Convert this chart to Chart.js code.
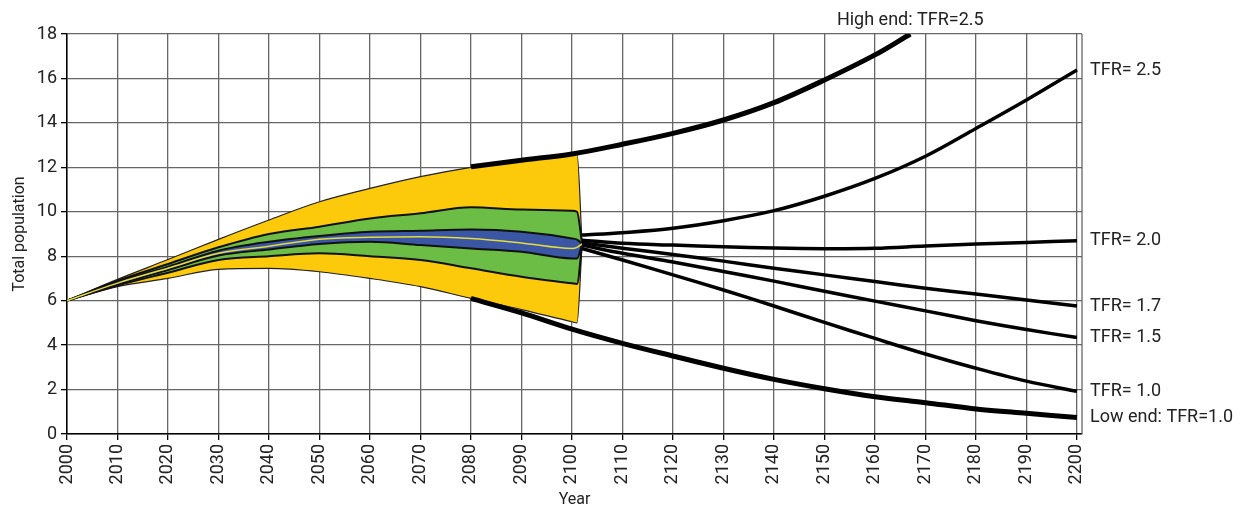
<!DOCTYPE html>
<html>
<head>
<meta charset="utf-8">
<script src="https://cdn.jsdelivr.net/npm/chart.js@4.4.1/dist/chart.umd.min.js"></script>
<style>
  html, body { margin: 0; padding: 0; background: #fff; }
  #wrap { width: 1243px; height: 512px; }
</style>
</head>
<body>
<div id="wrap"><canvas id="popChart"></canvas></div>
<script>
// 扇形区（概率区间）年份与数值
const fanYears   = [2000, 2010, 2020, 2030, 2040, 2050, 2060, 2070, 2080, 2090, 2100, 2101, 2102];
const outerUpper = [6.0, 6.96, 7.85, 8.76, 9.63, 10.45, 11.05, 11.58, 12.0, 12.3, 12.56, 12.6, 8.55];
const outerLower = [6.0, 6.63, 7.0, 7.41, 7.45, 7.3, 7.0, 6.63, 6.1, 5.6, 5.05, 5.0, 8.55];
const midUpper   = [6.0, 6.9, 7.65, 8.4, 9.0, 9.33, 9.7, 9.93, 10.2, 10.1, 10.05, 10.0, 8.55];
const midLower   = [6.0, 6.68, 7.26, 7.83, 8.0, 8.13, 8.0, 7.83, 7.46, 7.08, 6.78, 6.75, 8.55];
const innerUpper = [6.0, 6.85, 7.53, 8.25, 8.65, 8.91, 9.1, 9.15, 9.2, 9.1, 8.8, 8.75, 8.55];
const innerLower = [6.0, 6.72, 7.38, 8.03, 8.3, 8.55, 8.65, 8.5, 8.35, 8.2, 7.9, 7.9, 8.55];
const median     = [6.0, 6.79, 7.46, 8.13, 8.45, 8.76, 8.85, 8.88, 8.8, 8.6, 8.35, 8.4, 8.55];

// 2100年以后的情景
const projYears = [2102, 2110, 2120, 2130, 2140, 2150, 2160, 2170, 2180, 2190, 2200];
const tfr25 = [8.95, 9.06, 9.26, 9.6, 10.05, 10.7, 11.5, 12.5, 13.75, 15.03, 16.38];
const tfr20 = [8.72, 8.58, 8.5, 8.43, 8.37, 8.34, 8.36, 8.46, 8.55, 8.62, 8.7];
const tfr17 = [8.6, 8.36, 8.08, 7.78, 7.46, 7.16, 6.86, 6.56, 6.3, 6.03, 5.76];
const tfr15 = [8.5, 8.13, 7.74, 7.31, 6.88, 6.42, 5.98, 5.54, 5.1, 4.7, 4.34];
const tfr10 = [8.35, 7.83, 7.16, 6.48, 5.76, 5.02, 4.3, 3.6, 2.96, 2.38, 1.92];

const highYears = [2080, 2090, 2100, 2110, 2120, 2130, 2140, 2150, 2160, 2167];
const highEnd   = [12.03, 12.32, 12.6, 13.04, 13.53, 14.13, 14.91, 15.93, 17.06, 18.0];
const lowYears  = [2080, 2090, 2100, 2110, 2120, 2130, 2140, 2150, 2160, 2170, 2180, 2190, 2200];
const lowEnd    = [6.1, 5.45, 4.72, 4.08, 3.51, 2.96, 2.46, 2.04, 1.68, 1.41, 1.13, 0.93, 0.74];

// 坐标轴刻度
const xTicks = [2000, 2010, 2020, 2030, 2040, 2050, 2060, 2070, 2080, 2090, 2100,
                2110, 2120, 2130, 2140, 2150, 2160, 2170, 2180, 2190, 2200];
const yTicks = [0, 2, 4, 6, 8, 10, 12, 14, 16, 18];

const endLabels = ['TFR= 2.5', 'TFR= 2.0', 'TFR= 1.7', 'TFR= 1.5', 'TFR= 1.0', 'Low end: TFR=1.0'];
const highLabel = 'High end: TFR=2.5';

const FONT = 'Roboto, "Open Sans", sans-serif';

function pts(xs, ys) {
    return xs.map((x, i) => ({ x: x, y: ys[i] }));
}

function lineSet(data, color, width, extra) {
    return Object.assign({
        data: data,
        borderColor: color,
        borderWidth: width,
        pointRadius: 0,
        fill: false,
        cubicInterpolationMode: 'monotone'
    }, extra || {});
}

// 投影线用普通贝塞尔平滑
function projSet(data, width) {
    return lineSet(data, '#000', width, { cubicInterpolationMode: 'default', tension: 0.35 });
}

// 右侧文字和边框
const labelPlugin = {
    id: 'labelPlugin',
    afterDraw(chart) {
        const ctx = chart.ctx;
        const area = chart.chartArea;
        const xs = chart.scales.x;
        const ys = chart.scales.y;

        ctx.save();
        ctx.strokeStyle = '#666';
        ctx.lineWidth = 1.3;
        ctx.beginPath();
        ctx.moveTo(area.right, area.top);
        ctx.lineTo(area.right, area.bottom);
        ctx.stroke();

        ctx.fillStyle = '#222';
        ctx.font = '18px ' + FONT;
        ctx.textBaseline = 'middle';
        ctx.textAlign = 'left';
        const ends = [tfr25, tfr20, tfr17, tfr15, tfr10, lowEnd];
        ends.forEach((arr, i) => {
            const y = ys.getPixelForValue(arr[arr.length - 1]);
            ctx.fillText(endLabels[i], area.right + 8, y);
        });

        ctx.textAlign = 'center';
        ctx.fillText(highLabel, xs.getPixelForValue(highYears[highYears.length - 1]), area.top - 14);
        ctx.restore();
    }
};

document.addEventListener('DOMContentLoaded', function() {
    const ctx = document.getElementById('popChart').getContext('2d');

    new Chart(ctx, {
        type: 'line',
        data: {
            datasets: [
                projSet(pts(highYears, highEnd), 5),
                projSet(pts(lowYears, lowEnd), 5),
                projSet(pts(projYears, tfr25), 3.5),
                projSet(pts(projYears, tfr20), 3.5),
                projSet(pts(projYears, tfr17), 3.5),
                projSet(pts(projYears, tfr15), 3.5),
                projSet(pts(projYears, tfr10), 3.5),
                lineSet(pts(fanYears, median), '#e3dc3a', 1.5),
                lineSet(pts(fanYears, innerUpper), '#111', 2, { fill: '+1', backgroundColor: '#3a56a5' }),
                lineSet(pts(fanYears, innerLower), '#111', 2),
                lineSet(pts(fanYears, midUpper), '#111', 2, { fill: '+1', backgroundColor: '#6cbd45' }),
                lineSet(pts(fanYears, midLower), '#111', 2),
                lineSet(pts(fanYears, outerUpper), '#222', 1.2, { fill: '+1', backgroundColor: '#fdca0b' }),
                lineSet(pts(fanYears, outerLower), '#222', 1.2)
            ]
        },
        options: {
            responsive: true,
            maintainAspectRatio: false,
            animation: false,
            layout: {
                padding: { top: 34, right: 161, left: 0, bottom: 0 }
            },
            plugins: {
                legend: { display: false },
                tooltip: { enabled: false },
                filler: { drawTime: 'beforeDatasetsDraw' }
            },
            scales: {
                x: {
                    type: 'linear',
                    min: 2000,
                    max: 2201,
                    afterBuildTicks: axis => { axis.ticks = xTicks.map(v => ({ value: v })); },
                    afterFit: axis => { axis.height = 78; },
                    ticks: {
                        autoSkip: false,
                        minRotation: 90,
                        maxRotation: 90,
                        padding: 4,
                        color: '#222',
                        font: { family: FONT, size: 18 },
                        callback: v => String(v)
                    },
                    grid: {
                        color: '#666',
                        lineWidth: 1.3,
                        tickLength: 6,
                        tickColor: '#000'
                    },
                    border: { color: '#000', width: 1.5 },
                    title: {
                        display: true,
                        text: 'Year',
                        color: '#222',
                        font: { family: FONT, size: 16 },
                        padding: { top: 0, bottom: 2 }
                    }
                },
                y: {
                    min: 0,
                    max: 18,
                    afterBuildTicks: axis => { axis.ticks = yTicks.map(v => ({ value: v })); },
                    afterFit: axis => { axis.width = 67; },
                    ticks: {
                        padding: 4,
                        color: '#222',
                        font: { family: FONT, size: 18 },
                        callback: v => String(v)
                    },
                    grid: {
                        color: '#666',
                        lineWidth: 1.3,
                        tickLength: 6,
                        tickColor: '#000'
                    },
                    border: { color: '#000', width: 1.5 },
                    title: {
                        display: true,
                        text: 'Total population',
                        color: '#222',
                        font: { family: FONT, size: 16 },
                        padding: { top: 10, bottom: 0 }
                    }
                }
            }
        },
        plugins: [labelPlugin]
    });
});
</script>
</body>
</html>
